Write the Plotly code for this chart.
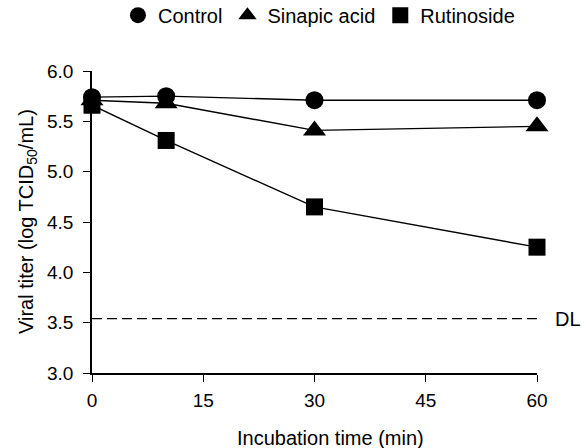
import plotly.graph_objects as go

time_min = [0, 10, 30, 60]
control = [5.74, 5.75, 5.71, 5.71]
sinapic = [5.71, 5.68, 5.41, 5.45]
rutinoside = [5.66, 5.31, 4.65, 4.25]
detection_limit = 3.54
x_ticks = [0, 15, 30, 45, 60]
y_ticks = [3.0, 3.5, 4.0, 4.5, 5.0, 5.5, 6.0]

font = "Liberation Sans, Arial, sans-serif"
fig = go.Figure()
series = [("Control", control, "circle", 18), ("Sinapic acid", sinapic, "triangle-up", 20),
          ("Rutinoside", rutinoside, "square", 17)]
for name, vals, sym, sz in series:
    fig.add_trace(go.Scatter(x=time_min, y=vals, name=name, mode="lines+markers",
                             line=dict(color="black", width=1.4),
                             marker=dict(symbol=sym, size=sz, color="black"),
                             cliponaxis=False, showlegend=False))
    # legend entry with marker only
    fig.add_trace(go.Scatter(x=[None], y=[None], name=name, mode="markers",
                             marker=dict(symbol=sym, size=sz, color="black"),
                             showlegend=True))

fig.add_shape(type="line", x0=0, x1=60.3, y0=detection_limit, y1=detection_limit,
              line=dict(color="black", width=1.4, dash="10px,5px"))
fig.add_annotation(x=1.07, xref="paper", y=detection_limit, text="DL", showarrow=False,
                   xanchor="center", font=dict(size=20, color="black", family=font))

fig.add_annotation(x=0.535, xref="paper", y=-0.215, yref="paper", yanchor="middle",
                   text="Incubation time (min)", showarrow=False,
                   font=dict(size=20, color="black", family=font))
fig.add_annotation(x=-0.146, xref="paper", y=0.5, yref="paper", xanchor="center",
                   text="Viral titer (log TCID<sub>50</sub>/mL)", showarrow=False, textangle=-90,
                   font=dict(size=20, color="black", family=font))

fig.update_layout(
    width=587, height=448, plot_bgcolor="white", paper_bgcolor="white",
    margin=dict(l=92, r=50, t=71, b=75, autoexpand=False),
    font=dict(family=font, size=19, color="black"),
    showlegend=True,
    legend=dict(orientation="h", x=0.51, xanchor="center", y=1.185, yanchor="middle",
                font=dict(size=20), itemwidth=30, bgcolor="rgba(0,0,0,0)"),
    xaxis=dict(range=[0, 60], tickvals=x_ticks, ticktext=[str(v) for v in x_ticks],
               showline=True, linecolor="black", linewidth=1.6, ticks="outside",
               ticklen=7, tickwidth=1.4, tickcolor="black", showgrid=False, zeroline=False,
               ticklabelstandoff=2, tickfont=dict(size=19)),
    yaxis=dict(range=[3, 6], tickvals=y_ticks, ticktext=[f"{v:.1f}" for v in y_ticks],
               showline=True, linecolor="black", linewidth=1.6, ticks="outside",
               ticklen=7, tickwidth=1.4, tickcolor="black", showgrid=False, zeroline=False,
               ticklabelstandoff=6, tickfont=dict(size=19)),
)
fig.write_html("out.html")
